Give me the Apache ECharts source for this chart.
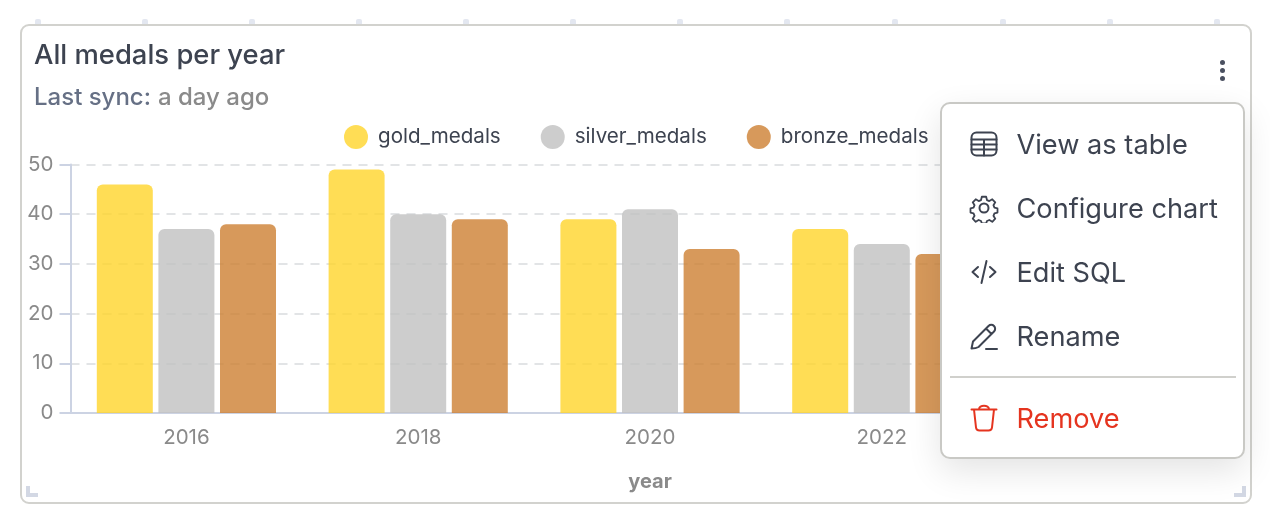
<!DOCTYPE html>
<html>
<head>
<meta charset="utf-8">
<style>
html, body { margin: 0; padding: 0; background: #fff; overflow: hidden; font-family: Inter, sans-serif; }
#page { position: relative; width: 1270px; height: 516px; overflow: hidden; }
#card { position: absolute; left: 20px; top: 24px; width: 1228px; height: 476px; border: 2px solid #d2d2ce; border-radius: 9px; }
#main { position: absolute; left: 0; top: 0; width: 1270px; height: 516px; }
.mark { position: absolute; top: 19px; width: 6px; height: 6px; border-radius: 2px 2px 0 0; background: #e3e7f0; }
.dot { position: absolute; left: 1220px; width: 5px; height: 5px; border-radius: 50%; background: #4a5060; }
.corner { position: absolute; top: 486px; width: 12px; height: 11px; background: #d3d8e4; }
#menu { position: absolute; left: 940px; top: 102px; width: 301px; height: 353px; background: #fff; border: 2px solid #c9c9c5; border-radius: 10px; box-shadow: 0 12px 34px rgba(0,0,0,.11); }
.item { position: absolute; left: 1016.500px; font-size: 27.2px; line-height: 34px; color: #3d4350; white-space: nowrap; }
.icon { position: absolute; left: 969px; width: 30px; height: 30px; fill: none; stroke: #3d4350; stroke-width: 2; stroke-linecap: round; stroke-linejoin: round; }
#divider { position: absolute; left: 950px; top: 376px; width: 286px; height: 2px; background: #d0d0cc; }
</style>
</head>
<body>
<div id="page">
  <div id="card"></div>
  <div id="main"></div>
  <div class="dot" style="top:60px"></div>
  <div class="dot" style="top:68px"></div>
  <div class="dot" style="top:76px"></div>
  <div class="corner" style="left:26px;clip-path:polygon(0 0,4px 0,4px 7px,100% 7px,100% 100%,0 100%)"></div>
  <div class="corner" style="left:1234px;clip-path:polygon(8px 0,100% 0,100% 100%,0 100%,0 7px,8px 7px)"></div>
  <div id="menu"></div>

  <svg class="icon" style="top:129px" viewBox="0 0 30 30">
    <rect x="2.500" y="3.500" width="25" height="23" rx="5"/>
    <path d="M2.500 10.500h25M2.500 15.500h25M2.500 20.500h25M15 10.500v16"/>
  </svg>
  <span class="item" style="top:128px">View as table</span>

  <svg class="icon" style="top:193px" viewBox="0 0 30 30">
    <circle cx="15" cy="15" r="4.500"/>
    <path d="M12.600 2.500h4.800l.9 3.700 2.600 1.100 3.300-2 3.300 3.400-2 3.200 1.100 2.700 3.400.9v4.600l-3.400.9-1.100 2.700 2 3.200-3.300 3.400-3.300-2-2.600 1.100-.9 2.700h-4.800l-.9-2.700-2.600-1.100-3.300 2-3.300-3.400 2-3.200-1.100-2.700-3.400-.9v-4.600l3.400-.9 1.100-2.700-2-3.200 3.300-3.400 3.300 2 2.600-1.100z" transform="translate(1.500 1.500) scale(.9)"/>
  </svg>
  <span class="item" style="top:192px">Configure chart</span>

  <svg class="icon" style="top:257px" viewBox="0 0 30 30">
    <path d="M9 10l-5.500 5 5.500 5M21 10l5.500 5-5.500 5M17.500 4l-5 22"/>
  </svg>
  <span class="item" style="top:256px">Edit SQL</span>

  <svg class="icon" style="top:321px" viewBox="0 0 30 30">
    <path d="M2.500 27.500l1.500-7 15.500-15.500a3.500 3.500 0 0 1 5.500 5.500l-15.500 15.500c-2 1.200-4.500 1.500-7 1.500zM17 7.500l5.500 5.500M17 28h11"/>
  </svg>
  <span class="item" style="top:320px">Rename</span>

  <div id="divider"></div>

  <svg class="icon" style="top:403px;stroke:#e5341f" viewBox="0 0 30 30">
    <path d="M2.500 6.500h25M10 6.500c0-5 10-5 10 0M5 6.500l2 18c.2 1.800 1.500 3 3.500 3h9c2 0 3.300-1.200 3.500-3l2-18"/>
  </svg>
  <span class="item" style="top:402px;color:#e5341f">Remove</span>
</div>

<script src="https://cdn.jsdelivr.net/npm/echarts@6/dist/echarts.min.js"></script>
<script>
// data, 2024 sits behind the popup menu so it stays empty
const years = ["2016", "2018", "2020", "2022", "2024"];
const goldMedals = [46, 49, 39, 37, null];
const silverMedals = [37, 40, 41, 34, null];
const bronzeMedals = [38, 39, 33, 32, null];
const markLefts = [35, 142, 249, 356, 463, 570, 677, 784, 892, 1000, 1107, 1214];

const page = document.getElementById("page");
markLefts.forEach(x => {
    const mark = document.createElement("div");
    mark.className = "mark";
    mark.style.left = x + "px";
    page.prepend(mark);
});

function barSeries(name, values, color) {
    return {
        name: name,
        type: "bar",
        data: values,
        barWidth: 56,
        barGap: "10%",
        itemStyle: {
            color: color,
            opacity: 0.8,
            borderRadius: [6, 6, 0, 0]
        }
    };
}

const chart = echarts.init(document.getElementById("main"), null, { renderer: "canvas" });
chart.setOption({
    animation: false,
    backgroundColor: "transparent",
    textStyle: { fontFamily: "Inter" },
    title: [{
        text: "All medals per year",
        left: 34,
        top: 42,
        padding: 0,
        textStyle: { fontFamily: "Inter", fontSize: 27.4, fontWeight: 500, color: "#3d4350" }
    }, {
        text: "{a|Last sync:}{b|a day ago}",
        left: 34,
        top: 86,
        padding: 0,
        textStyle: {
            rich: {
                a: { fontFamily: "Inter", fontSize: 24, fontWeight: 500, color: "#667085" },
                b: { fontFamily: "Inter", fontSize: 24, fontWeight: 500, color: "#8a8a8a", padding: [0, 0, 0, 7] }
            }
        }
    }],
    legend: {
        left: 344,
        top: 125,
        padding: 0,
        icon: "circle",
        itemWidth: 24,
        itemHeight: 24,
        itemGap: 40,
        textStyle: { fontFamily: "Inter", fontSize: 20.6, color: "#3d4350", padding: [0, 0, 0, 5] }
    },
    grid: { left: 70.5, right: 40.5, top: 164.5, bottom: 103 },
    xAxis: {
        type: "category",
        data: years,
        name: "year",
        nameLocation: "middle",
        nameGap: 59,
        nameTextStyle: { fontFamily: "Inter", fontSize: 20, fontWeight: 700, color: "#8a8a8a" },
        axisLine: { lineStyle: { color: "#ccd3e3", width: 2 } },
        axisTick: { alignWithLabel: true, length: 10, lineStyle: { color: "#ccd3e3", width: 2 } },
        axisLabel: { margin: 14, fontSize: 20.5, color: "#8a8a8a", fontFamily: "Inter" }
    },
    yAxis: {
        type: "value",
        min: 0,
        max: 50,
        interval: 10,
        axisLine: { show: true, lineStyle: { color: "#ccd3e3", width: 2 } },
        axisTick: { show: true, length: 11, lineStyle: { color: "#ccd3e3", width: 2 } },
        axisLabel: { margin: 17, fontSize: 20.5, color: "#8a8a8a", fontFamily: "Inter" },
        splitLine: { lineStyle: { color: "#e2e4e6", width: 2, type: [9, 7] } }
    },
    series: [
        barSeries("gold_medals", goldMedals, "#ffd42a"),
        barSeries("silver_medals", silverMedals, "#c0c0c0"),
        barSeries("bronze_medals", bronzeMedals, "#cd7f32")
    ]
});
</script>
</body>
</html>
